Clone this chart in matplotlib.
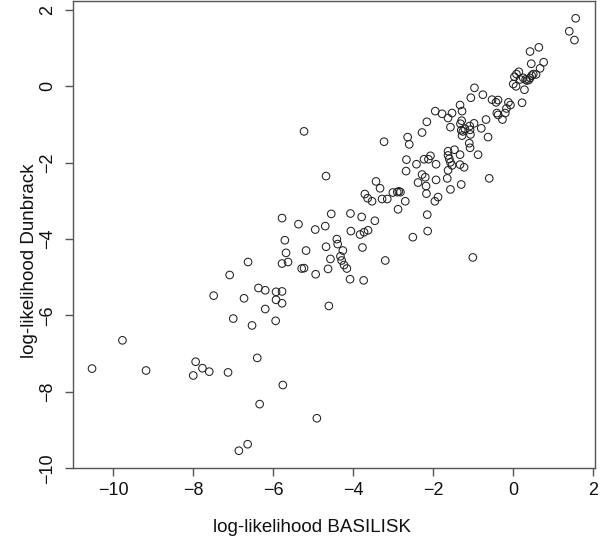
import matplotlib
matplotlib.use("Agg")
import matplotlib.pyplot as plt
import numpy as np

# log-likelihoods
basilisk = [
    -7.00, -9.77, -10.53, -9.18, -7.94, -7.77, -7.60, -8.00, -7.13, -6.86, -6.64,
    -5.78, -4.55, -4.07, -5.37, -4.95, -4.70, -4.06, -5.71, -4.41, -4.39, -4.26,
    -4.68, -5.68, -5.18, -6.63, -5.78, -5.63, -4.57, -4.32, -4.29, -4.23, -4.16,
    -5.29, -5.23, -4.94, -4.63, -4.08, -7.09, -6.37, -6.20, -5.93, -5.78, -5.93,
    -5.78, -7.49, -6.73, -6.20, -6.53, -5.94, -4.61, -6.40, -5.76,
    -3.23, -2.60, -2.67, -2.68, -4.68, -3.43, -3.33, -3.71, -3.64, -3.53, -3.28,
    -3.15, -3.01, -2.90, -2.86, -2.82, -2.70, -2.88, -3.79, -3.46, -3.83, -3.73,
    -3.63, -3.77, -3.74, -3.20,
    -1.95, -1.78, -1.63, -1.53, -2.16, -1.57, -2.28, -2.64, -2.42, -2.23, -2.12,
    -2.07, -1.93, -1.63, -1.47, -1.63, -1.60, -1.57, -1.53, -1.63, -2.28, -2.20,
    -2.38, -2.18, -1.93, -1.65, -2.17, -1.57, -1.88, -1.96, -2.15, -2.14, -2.51,
    -0.97, -1.06, -0.76, -0.53, -0.43, -0.38, -0.12, -0.17, -0.20, -0.41, -0.38,
    -0.27, -1.33, -1.28, -1.29, -1.32, -0.98, -1.09, -0.68, -0.80, -1.30, -1.26,
    -1.21, -1.08, -1.07, -1.28, -0.63, -1.10, -1.08, -0.88, -1.33, -1.33, -1.23,
    -1.30, -0.60,
    1.56, 1.40, 1.53, 0.42, 0.64, 0.45, 0.76, 0.67, 0.14, 0.08, 0.03, 0.50, 0.46,
    0.42, 0.39, 0.34, 0.31, 0.25, 0.17, 0.57, 0.00, 0.07, 0.28, 0.22, -0.07,
    -5.23, -4.91, -6.34, -1.01,
]
dunbrack = [
    -6.08, -6.65, -7.39, -7.44, -7.21, -7.38, -7.47, -7.57, -7.49, -9.54, -9.37,
    -3.45, -3.34, -3.33, -3.61, -3.75, -3.66, -3.79, -4.03, -4.00, -4.13, -4.30,
    -4.20, -4.36, -4.30, -4.60, -4.64, -4.60, -4.52, -4.45, -4.56, -4.68, -4.77,
    -4.77, -4.76, -4.92, -4.78, -5.05, -4.94, -5.28, -5.34, -5.38, -5.37, -5.59,
    -5.68, -5.48, -5.55, -5.83, -6.26, -6.14, -5.75, -7.11, -7.82,
    -1.45, -1.52, -1.92, -2.22, -2.35, -2.49, -2.67, -2.82, -2.93, -3.01, -2.95,
    -2.95, -2.78, -2.77, -2.75, -2.77, -3.01, -3.22, -3.42, -3.52, -3.88, -3.82,
    -3.77, -4.22, -5.08, -4.56,
    -0.65, -0.72, -0.83, -0.70, -0.93, -1.07, -1.21, -1.33, -2.04, -1.91, -1.91,
    -1.82, -2.04, -1.70, -1.66, -1.81, -1.90, -1.99, -2.07, -2.20, -2.31, -2.38,
    -2.52, -2.61, -2.45, -2.41, -2.81, -2.70, -2.90, -3.01, -3.36, -3.79, -3.95,
    -0.04, -0.30, -0.22, -0.35, -0.42, -0.36, -0.42, -0.58, -0.70, -0.70, -0.75,
    -0.87, -0.49, -0.65, -0.90, -0.98, -0.97, -1.04, -0.87, -1.10, -1.15, -1.18,
    -1.11, -1.14, -1.26, -1.29, -1.33, -1.49, -1.61, -1.79, -1.79, -2.05, -2.12,
    -2.57, -2.41,
    1.78, 1.44, 1.21, 0.91, 1.02, 0.59, 0.63, 0.47, 0.38, 0.32, 0.25, 0.32, 0.28,
    0.22, 0.17, 0.15, 0.18, 0.22, 0.18, 0.31, 0.06, 0.00, -0.09, -0.43, -0.49,
    -1.18, -8.69, -8.32, -4.48,
]
xticks = [-10, -8, -6, -4, -2, 0, 2]
yticks = [-10, -8, -6, -4, -2, 0, 2]

plt.rcParams['font.family'] = ['Liberation Sans', 'DejaVu Sans']

fig = plt.figure(figsize=(6.0, 5.45), dpi=100)
ax = fig.add_axes([72.7 / 600, 1 - 468.3 / 545, (595 - 72.7) / 600, (468.3 - 1) / 545])

ax.scatter(basilisk, dunbrack, s=30, facecolors='none', edgecolors='#222222', linewidths=0.75)

# R-style 4% padding
x = np.array(basilisk)
y = np.array(dunbrack)
px = 0.04 * (x.max() - x.min())
py = 0.04 * (y.max() - y.min())
ax.set_xlim(x.min() - px, x.max() + px)
ax.set_ylim(y.min() - py, y.max() + py)

ax.set_xticks(xticks)
ax.set_yticks(yticks)
ax.set_xticklabels([str(t).replace('-', '\u2212') for t in xticks])
ax.set_yticklabels([str(t).replace('-', '\u2212') for t in yticks], rotation=90, va='center')

for sp in ax.spines.values():
    sp.set_color('#555555')
    sp.set_linewidth(1.0)
ax.tick_params(direction='out', length=6, width=1.0, color='#555555', labelsize=13,
               labelcolor='#111111')
ax.tick_params(axis='x', pad=4)
ax.tick_params(axis='y', pad=6)

fig.text(312 / 600, 1 - 527 / 545, 'log-likelihood BASILISK', ha='center', va='center',
         fontsize=13.5, color='#111111')
fig.text(30 / 600, 1 - 261 / 545, 'log-likelihood Dunbrack', ha='center', va='center',
         rotation=90, fontsize=13.5, color='#111111')

fig.savefig('out.png', dpi=100)
